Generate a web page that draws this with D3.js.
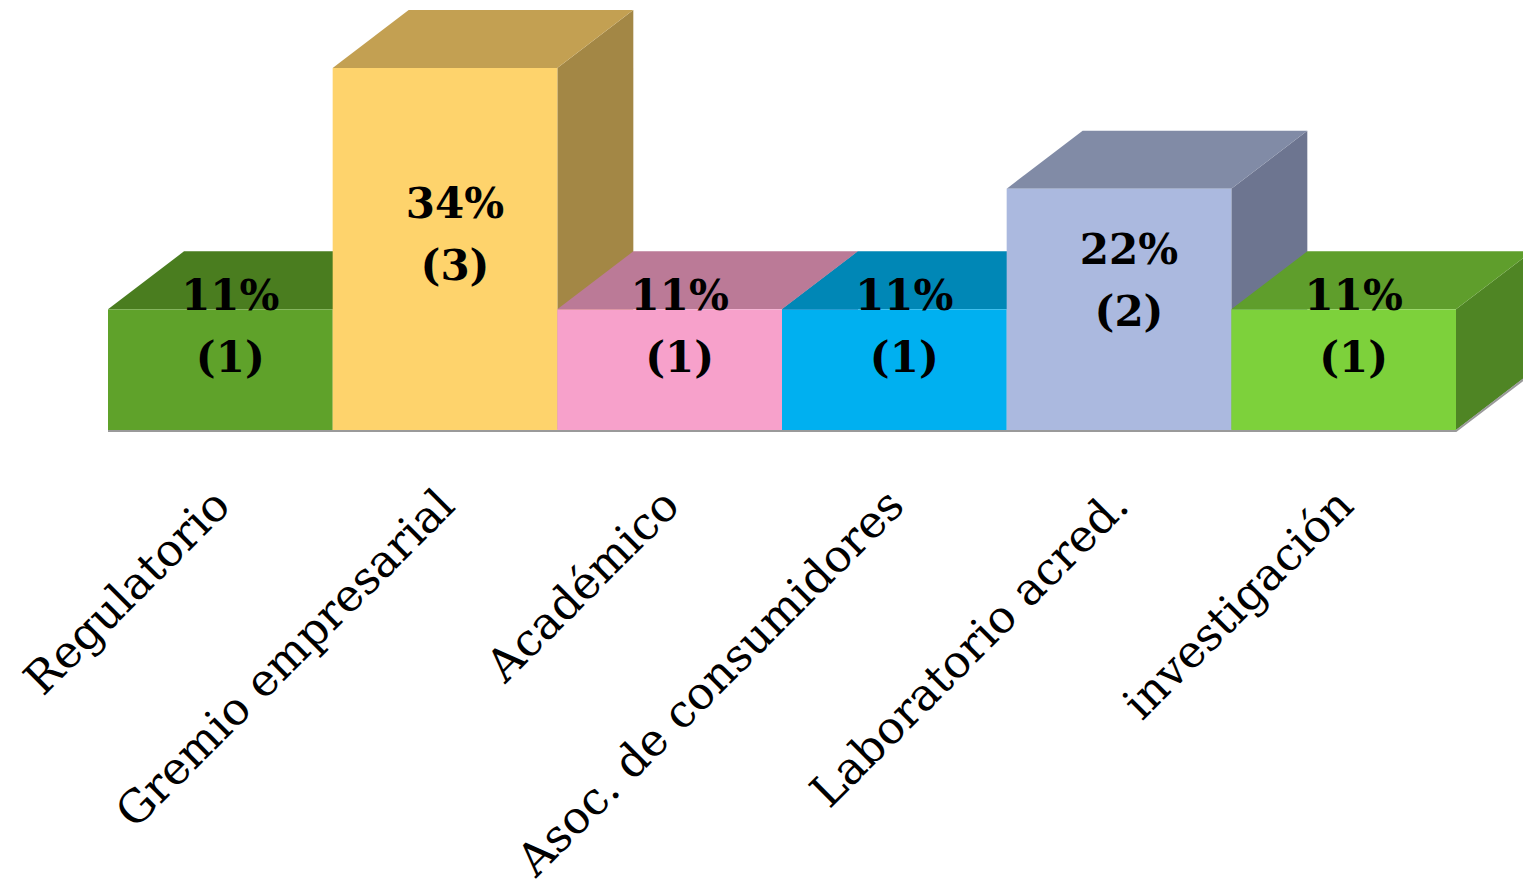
<!DOCTYPE html>
<html>
  <head>
    <meta charset="utf-8">
    <script src="https://d3js.org/d3.v7.min.js"></script>
    <style>
    body { margin: 0; background: #fff; }
    .cat { font-family: 'DejaVu Serif', serif; font-size: 45px; fill: #000; }
    .val { font-family: 'DejaVu Serif', serif; font-size: 42px; font-weight: bold; fill: #000; }
    </style>
  </head>
  <body>
    <script>

      // data
      var categories = ["Regulatorio", "Gremio empresarial", "Académico",
                        "Asoc. de consumidores", "Laboratorio acred.", "investigación"];
      var counts = [1, 3, 1, 1, 2, 1];
      var percents = ["11%", "34%", "11%", "11%", "22%", "11%"];
      var frontColors = ["#5fa22a", "#fed36c", "#f7a1cb", "#00b0f0", "#abb9df", "#7dd13b"];
      var topColors   = ["#4a7d1f", "#c3a052", "#bb7a97", "#0087b6", "#818ba6", "#5f9e2c"];
      var sideColors  = ["#3f6c1a", "#a38745", "#9c6680", "#00729a", "#6d7590", "#4f8524"];

      // setup
      var w = 1523, h = 890;
      var depth = {dx: 76, dy: -58};

      var svg = d3.select("body").append("svg")
          .attr("width", w)
          .attr("height", h);

      var xScale = d3.scaleBand().domain(categories).range([108, 1456]).padding(0);
      var yScale = d3.scaleLinear().domain([0, 3]).range([430, 68]);

      var bars = categories.map(function(c, i) {
        return {cat: c, count: counts[i], pct: percents[i], i: i};
      });

      // draw left to right so later bars cover earlier side faces
      var g = svg.append("g").attr("id", "bars");
      bars.forEach(function(d) {
        var x0 = xScale(d.cat), x1 = x0 + xScale.bandwidth();
        var yt = yScale(d.count), yb = yScale(0);
        var dx = depth.dx, dy = depth.dy;
        var b = g.append("g");
        b.append("polygon")
          .attr("points", [[x1, yt], [x1 + dx, yt + dy], [x1 + dx, yb + dy], [x1, yb]].join(" "))
          .attr("fill", sideColors[d.i]);
        b.append("polygon")
          .attr("points", [[x0, yt], [x1, yt], [x1 + dx, yt + dy], [x0 + dx, yt + dy]].join(" "))
          .attr("fill", topColors[d.i]);
        b.append("rect")
          .attr("x", x0).attr("y", yt)
          .attr("width", x1 - x0).attr("height", yb - yt)
          .attr("fill", frontColors[d.i]);
      });

      // floor line
      var last = categories[categories.length - 1];
      var xr = xScale(last) + xScale.bandwidth();
      svg.append("polyline")
        .attr("points", [[xScale(categories[0]), yScale(0) + 1], [xr, yScale(0) + 1],
                         [xr + depth.dx, yScale(0) + depth.dy + 1]].join(" "))
        .attr("fill", "none")
        .attr("stroke", "#9a9a9a")
        .attr("stroke-width", 2);

      // value labels
      var labels = svg.append("g").attr("id", "labels");
      bars.forEach(function(d) {
        var cx = xScale(d.cat) + xScale.bandwidth() / 2 + 10;
        var yt = yScale(d.count);
        var base1 = yt + 0.618 * (yScale(0) - yt) - 74;
        var t = labels.append("text")
          .attr("class", "val")
          .attr("text-anchor", "middle")
          .attr("x", cx);
        t.append("tspan").attr("x", cx).attr("y", base1).text(d.pct);
        t.append("tspan").attr("x", cx).attr("y", base1 + 62).text("(" + d.count + ")");
      });

      // category labels
      svg.append("g").attr("id", "cats")
        .selectAll("text")
        .data(categories)
        .enter().append("text")
          .attr("class", "cat")
          .attr("text-anchor", "end")
          .attr("transform", function(d) {
            var x = xScale(d) + xScale.bandwidth() / 2 + 12;
            return "translate(" + x + ",508) rotate(-45)";
          })
          .text(function(d) { return d; });

    </script>
  </body>
</html>
